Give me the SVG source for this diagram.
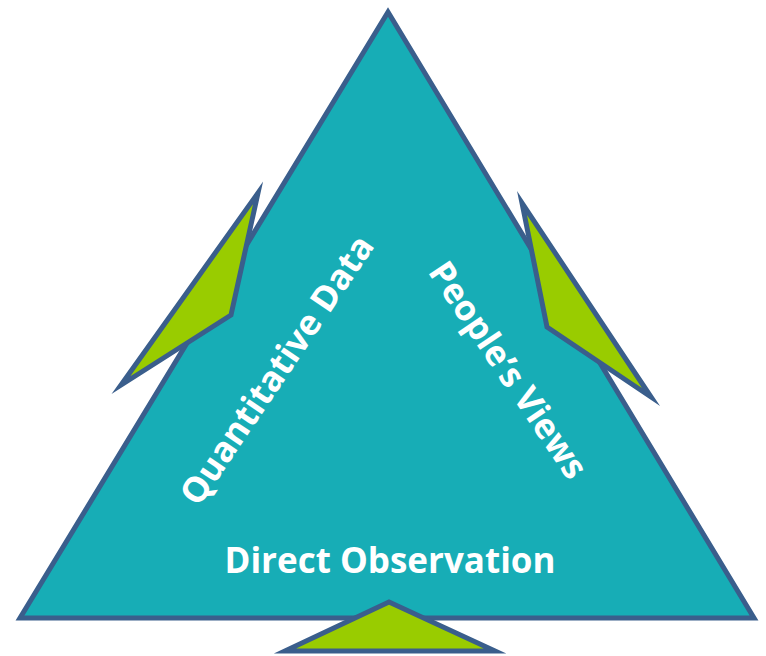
<svg xmlns="http://www.w3.org/2000/svg" width="766" height="656" viewBox="0 0 766 656">
  <style>
    .edge { stroke: #3A5E8C; stroke-width: 5; stroke-linejoin: miter; stroke-miterlimit: 10; }
    .main { fill: #17ADB6; }
    .tab { fill: #99CC00; }
    .label { fill: #FFFFFF; font-family: "Open Sans", "Liberation Sans", sans-serif; font-weight: bold; font-size: 35px; text-anchor: middle; }
  </style>
  <rect width="766" height="656" fill="#FFFFFF"/>
  <g id="triangle">
    <polygon class="main edge" points="388,12 754,618 20,618"/>
  </g>
  <g id="tab-left">
    <polygon class="tab edge" points="258,193 231,315 121,385"/>
  </g>
  <g id="tab-right">
    <polygon class="tab edge" points="522,203 547,327 651,397"/>
  </g>
  <g id="tab-bottom">
    <polygon class="tab edge" points="389,602 495,651 285,651"/>
  </g>
  <g id="label-quantitative">
    <text class="label" transform="translate(277,370) rotate(-56)" x="0" y="12">Quantitative Data</text>
  </g>
  <g id="label-people">
    <text class="label" transform="translate(508,370) rotate(56)" x="0" y="12">People’s Views</text>
  </g>
  <g id="label-direct">
    <text class="label" x="390" y="573">Direct Observation</text>
  </g>
</svg>
